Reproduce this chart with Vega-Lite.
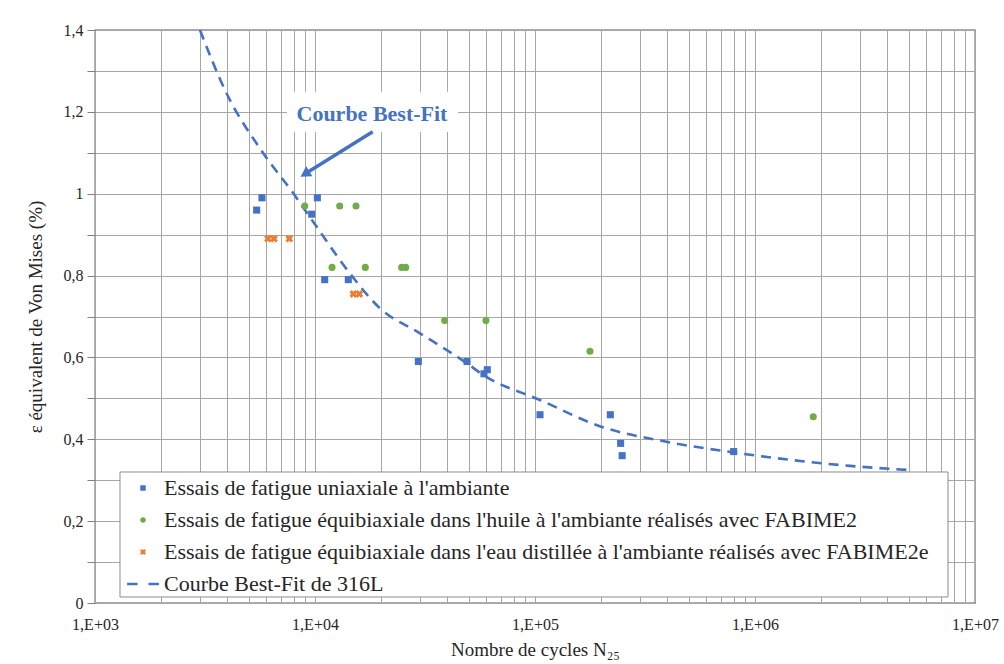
{
  "$schema": "https://vega.github.io/schema/vega-lite/v6.json",
  "autosize": {"type": "none"},
  "padding": {"left": 95, "top": 30, "right": 29, "bottom": 61},
  "width": 880,
  "height": 573,
  "background": "white",
  "config": {
    "font": "Liberation Serif",
    "view": {"stroke": "#595959", "strokeWidth": 1.3},
    "axis": {"labelFont": "Liberation Serif", "titleFont": "Liberation Serif", "labelColor": "#262626", "titleColor": "#262626", "titleFontWeight": "normal", "gridColor": "#A6A6A6", "gridWidth": 1, "gridOpacity": 1, "domain": false},
    "legend": {"labelFont": "Liberation Serif"}
  },
  "datasets": {
    "pts": [
      {"s": "Essais de fatigue uniaxiale à l'ambiante", "N": 5430, "v": 0.96},
      {"s": "Essais de fatigue uniaxiale à l'ambiante", "N": 5740, "v": 0.99},
      {"s": "Essais de fatigue uniaxiale à l'ambiante", "N": 10250, "v": 0.99},
      {"s": "Essais de fatigue uniaxiale à l'ambiante", "N": 9660, "v": 0.95},
      {"s": "Essais de fatigue uniaxiale à l'ambiante", "N": 11070, "v": 0.79},
      {"s": "Essais de fatigue uniaxiale à l'ambiante", "N": 14170, "v": 0.79},
      {"s": "Essais de fatigue uniaxiale à l'ambiante", "N": 29500, "v": 0.59},
      {"s": "Essais de fatigue uniaxiale à l'ambiante", "N": 49100, "v": 0.59},
      {"s": "Essais de fatigue uniaxiale à l'ambiante", "N": 58600, "v": 0.56},
      {"s": "Essais de fatigue uniaxiale à l'ambiante", "N": 60700, "v": 0.57},
      {"s": "Essais de fatigue uniaxiale à l'ambiante", "N": 105400, "v": 0.46},
      {"s": "Essais de fatigue uniaxiale à l'ambiante", "N": 220000, "v": 0.46},
      {"s": "Essais de fatigue uniaxiale à l'ambiante", "N": 245000, "v": 0.39},
      {"s": "Essais de fatigue uniaxiale à l'ambiante", "N": 249000, "v": 0.36},
      {"s": "Essais de fatigue uniaxiale à l'ambiante", "N": 800000, "v": 0.37},
      {"s": "Essais de fatigue équibiaxiale dans l'huile à l'ambiante réalisés avec FABIME2", "N": 8980, "v": 0.97},
      {"s": "Essais de fatigue équibiaxiale dans l'huile à l'ambiante réalisés avec FABIME2", "N": 12950, "v": 0.97},
      {"s": "Essais de fatigue équibiaxiale dans l'huile à l'ambiante réalisés avec FABIME2", "N": 15360, "v": 0.97},
      {"s": "Essais de fatigue équibiaxiale dans l'huile à l'ambiante réalisés avec FABIME2", "N": 11950, "v": 0.82},
      {"s": "Essais de fatigue équibiaxiale dans l'huile à l'ambiante réalisés avec FABIME2", "N": 16930, "v": 0.82},
      {"s": "Essais de fatigue équibiaxiale dans l'huile à l'ambiante réalisés avec FABIME2", "N": 24770, "v": 0.82},
      {"s": "Essais de fatigue équibiaxiale dans l'huile à l'ambiante réalisés avec FABIME2", "N": 25840, "v": 0.82},
      {"s": "Essais de fatigue équibiaxiale dans l'huile à l'ambiante réalisés avec FABIME2", "N": 38850, "v": 0.69},
      {"s": "Essais de fatigue équibiaxiale dans l'huile à l'ambiante réalisés avec FABIME2", "N": 59850, "v": 0.69},
      {"s": "Essais de fatigue équibiaxiale dans l'huile à l'ambiante réalisés avec FABIME2", "N": 177800, "v": 0.615},
      {"s": "Essais de fatigue équibiaxiale dans l'huile à l'ambiante réalisés avec FABIME2", "N": 1840000, "v": 0.455},
      {"s": "Essais de fatigue équibiaxiale dans l'eau distillée à l'ambiante réalisés avec FABIME2e", "N": 6110, "v": 0.89},
      {"s": "Essais de fatigue équibiaxiale dans l'eau distillée à l'ambiante réalisés avec FABIME2e", "N": 6510, "v": 0.89},
      {"s": "Essais de fatigue équibiaxiale dans l'eau distillée à l'ambiante réalisés avec FABIME2e", "N": 7640, "v": 0.89},
      {"s": "Essais de fatigue équibiaxiale dans l'eau distillée à l'ambiante réalisés avec FABIME2e", "N": 14940, "v": 0.755},
      {"s": "Essais de fatigue équibiaxiale dans l'eau distillée à l'ambiante réalisés avec FABIME2e", "N": 15900, "v": 0.755}
    ],
    "fit": [
      {"N": 3000, "v": 1.40},
      {"N": 3900, "v": 1.253},
      {"N": 5820, "v": 1.099},
      {"N": 7970, "v": 1.001},
      {"N": 10180, "v": 0.919},
      {"N": 14420, "v": 0.805},
      {"N": 19740, "v": 0.72},
      {"N": 30000, "v": 0.659},
      {"N": 48900, "v": 0.586},
      {"N": 58200, "v": 0.557},
      {"N": 105400, "v": 0.496},
      {"N": 197000, "v": 0.432},
      {"N": 396000, "v": 0.394},
      {"N": 797000, "v": 0.368},
      {"N": 2700000, "v": 0.335},
      {"N": 4970000, "v": 0.325}
    ],
    "boxes": [
      {"N": 7460, "N2": 44700, "v": 1.249, "v2": 1.151, "k": "note"},
      {"N": 1299, "N2": 7540000, "v": 0.3201, "v2": 0.0147, "k": "legend"}
    ],
    "arrow": [{"N": 18290, "v": 1.1515, "N2": 9100, "v2": 1.05}],
    "head": [{"N": 9000, "v": 1.048}],
    "label": [{"N": 18150, "v": 1.195, "t": "Courbe Best-Fit"}]
  },
  "layer": [
    {
      "data": {"name": "boxes"},
      "mark": {"type": "rect", "fill": "white", "strokeWidth": 1},
      "encoding": {
        "stroke": {"condition": {"test": "datum.k == 'legend'", "value": "#8C8C8C"}, "value": null},
        "x": {"field": "N", "type": "quantitative", "scale": {"type": "log", "domain": [1000, 10000000]},
          "axis": {
            "title": "Nombre de cycles N₂₅",
            "titleFont": "Liberation Serif",
            "labelFont": "Liberation Serif",
            "titleFontSize": 19,
            "titlePadding": 8,
            "values": [1000,2000,3000,4000,5000,6000,7000,8000,9000,10000,20000,30000,40000,50000,60000,70000,80000,90000,100000,200000,300000,400000,500000,600000,700000,800000,900000,1000000,2000000,3000000,4000000,5000000,6000000,7000000,8000000,9000000,10000000],
            "labelExpr": "abs(log(datum.value)/LN10 - round(log(datum.value)/LN10)) < 0.000001 ? '1,E+0' + round(log(datum.value)/LN10) : ''",
            "labelFontSize": 16,
            "labelPadding": 13,
            "ticks": false,
            "tickSize": 0,
            "labelOverlap": false,
            "labelFlush": false,
            "labelBound": false,
            "grid": true
          }},
        "x2": {"field": "N2"},
        "y": {"field": "v", "type": "quantitative", "scale": {"domain": [0, 1.4], "nice": false},
          "axis": {
            "title": "ε équivalent de Von Mises (%)",
            "titleFont": "Liberation Serif",
            "labelFont": "Liberation Serif",
            "titleFontSize": 19,
            "titlePadding": 18,
            "values": [0,0.1,0.2,0.3,0.4,0.5,0.6,0.7,0.8,0.9,1,1.1,1.2,1.3,1.4],
            "labelExpr": "round(datum.value*10) % 2 == 0 ? replace(format(datum.value, '~g'), '.', ',') : ''",
            "labelFontSize": 16,
            "labelPadding": 4,
            "tickSize": 8,
            "tickColor": "#808080",
            "labelOverlap": false,
            "labelBound": false,
            "labelFlush": false,
            "grid": true
          }},
        "y2": {"field": "v2"}
      }
    },
    {
      "data": {"name": "fit"},
      "mark": {"type": "line", "color": "#4472C4", "strokeWidth": 2.6, "strokeDash": [10, 7], "interpolate": "monotone"},
      "encoding": {
        "x": {"field": "N", "type": "quantitative"},
        "y": {"field": "v", "type": "quantitative"}
      }
    },
    {
      "data": {"name": "arrow"},
      "mark": {"type": "rule", "color": "#4472C4", "strokeWidth": 3.5},
      "encoding": {
        "x": {"field": "N", "type": "quantitative"},
        "y": {"field": "v", "type": "quantitative"},
        "x2": {"field": "N2"},
        "y2": {"field": "v2"}
      }
    },
    {
      "data": {"name": "head"},
      "mark": {"type": "point", "shape": "triangle-up", "filled": true, "color": "#4472C4", "opacity": 1, "size": 140, "angle": 238, "strokeWidth": 0},
      "encoding": {
        "x": {"field": "N", "type": "quantitative"},
        "y": {"field": "v", "type": "quantitative"}
      }
    },
    {
      "data": {"name": "pts"},
      "mark": {"type": "point", "filled": true, "opacity": 1, "size": 50, "strokeWidth": 0},
      "encoding": {
        "x": {"field": "N", "type": "quantitative"},
        "y": {"field": "v", "type": "quantitative"},
        "color": {"field": "s", "type": "nominal",
          "scale": {
            "domain": ["Essais de fatigue uniaxiale à l'ambiante", "Essais de fatigue équibiaxiale dans l'huile à l'ambiante réalisés avec FABIME2", "Essais de fatigue équibiaxiale dans l'eau distillée à l'ambiante réalisés avec FABIME2e", "Courbe Best-Fit de 316L"],
            "range": ["#4472C4", "#70AD47", "#ED7D31", "#4472C4"]
          },
          "legend": {
            "title": null,
            "orient": "none",
            "legendX": 25,
            "legendY": 442,
            "padding": 5,
            "labelFont": "Liberation Serif",
            "labelFontSize": 22,
            "labelColor": "#262626",
            "labelLimit": 1000,
            "labelOffset": 10,
            "symbolOffset": 7,
            "symbolSize": 30,
            "symbolStrokeWidth": 0,
            "rowPadding": 10
          }},
        "shape": {"field": "s", "type": "nominal",
          "scale": {
            "domain": ["Essais de fatigue uniaxiale à l'ambiante", "Essais de fatigue équibiaxiale dans l'huile à l'ambiante réalisés avec FABIME2", "Essais de fatigue équibiaxiale dans l'eau distillée à l'ambiante réalisés avec FABIME2e", "Courbe Best-Fit de 316L"],
            "range": ["square", "circle", "M-1.1,-0.5L-0.5,-1.1L0,-0.6L0.5,-1.1L1.1,-0.5L0.6,0L1.1,0.5L0.5,1.1L0,0.6L-0.5,1.1L-1.1,0.5L-0.6,0Z", "M-5.8,-0.5H-2V0.5H-5.8Z M2,-0.5H5.8V0.5H2Z"]
          }}
      }
    },
    {
      "data": {"name": "label"},
      "mark": {"type": "text", "color": "#4472C4", "fontSize": 22, "fontWeight": "bold", "font": "Liberation Serif", "align": "center", "baseline": "middle"},
      "encoding": {
        "x": {"field": "N", "type": "quantitative"},
        "y": {"field": "v", "type": "quantitative"},
        "text": {"field": "t"}
      }
    }
  ]
}
